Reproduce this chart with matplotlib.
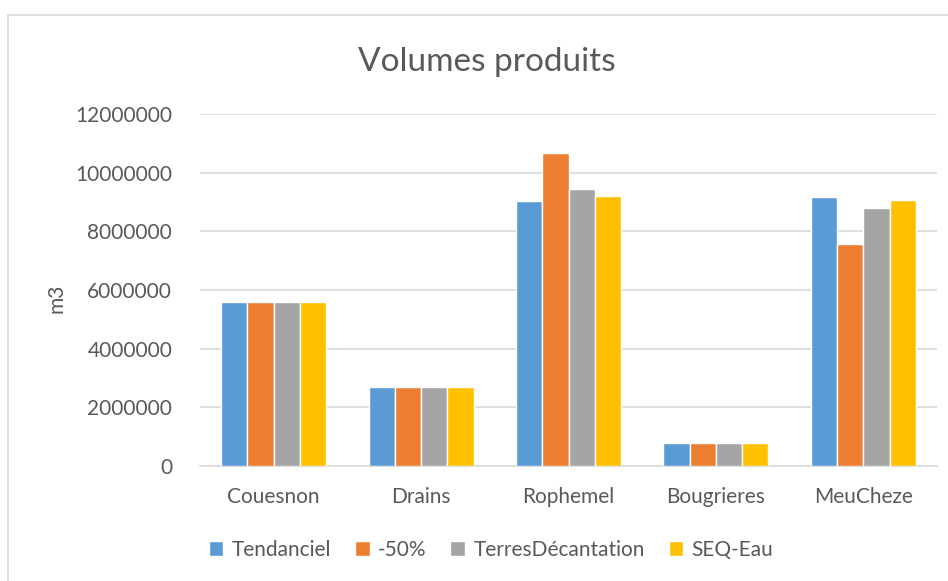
import numpy as np
import matplotlib
matplotlib.use("Agg")
import matplotlib.pyplot as plt
from matplotlib.patches import Rectangle

# Data
sites = ["Couesnon", "Drains", "Rophemel", "Bougrieres", "MeuCheze"]
tendanciel = [5600000, 2680000, 9050000, 780000, 9180000]
moins50 = [5600000, 2680000, 10680000, 780000, 7560000]
terresDecantation = [5600000, 2680000, 9460000, 780000, 8790000]
seqEau = [5600000, 2680000, 9190000, 780000, 9060000]
seriesNames = ["Tendanciel", "-50%", "TerresDécantation", "SEQ-Eau"]
yTicks = [0, 2000000, 4000000, 6000000, 8000000, 10000000, 12000000]

colors = ["#5B9BD5", "#ED7D31", "#A5A5A5", "#FFC000"]
textColor = "#595959"
gridColor = "#D9D9D9"

plt.rcParams['font.family'] = ['Lato', 'DejaVu Sans']

W, H = 948, 581
fig = plt.figure(figsize=(W/100, H/100), dpi=100)

# outer chart frame (cut by the picture on the right and bottom)
fig.patches.append(Rectangle((8/W, -0.1), 1.2, (H-15)/H + 0.1, transform=fig.transFigure,
                             fill=False, edgecolor=gridColor, linewidth=1.2))

left, right, top, bottom = 200, 937, 114, 466
ax = fig.add_axes([left/W, (H-bottom)/H, (right-left)/W, (bottom-top)/H])

series = [tendanciel, moins50, terresDecantation, seqEau]
x = np.arange(len(sites))
pitch = 0.178
for i, values in enumerate(series):
    offset = (i - 1.5) * pitch
    ax.bar(x + offset, values, width=pitch, color=colors[i], edgecolor="white",
           linewidth=1.0, label=seriesNames[i], zorder=3)

ax.set_xlim(-0.5, len(sites) - 0.5)
ax.set_ylim(0, 12000000)
ax.set_yticks(yTicks)
ax.set_yticklabels([str(v) for v in yTicks])
ax.set_xticks(x)
ax.set_xticklabels(sites)
ax.tick_params(axis='both', length=0, labelsize=15, colors=textColor)
ax.tick_params(axis='y', pad=20)
ax.tick_params(axis='x', pad=15)

ax.grid(axis='y', color=gridColor, linewidth=1.2, zorder=0)
for s in ["top", "right", "left"]:
    ax.spines[s].set_visible(False)
ax.spines["bottom"].set_color(gridColor)
ax.spines["bottom"].set_linewidth(1.2)

fig.text(57/W, 1 - 298/H, "m3", rotation=90, ha="center", va="center",
         fontsize=15, color=textColor)
fig.text(487/W, 1 - 62/H, "Volumes produits", ha="center", va="center",
         fontsize=24, color=textColor)

handles, labels = ax.get_legend_handles_labels()
leg = fig.legend(handles, labels, loc="center", bbox_to_anchor=(491/W, 1 - 550/H), ncol=4,
                 frameon=False, fontsize=15, handlelength=0.7, handleheight=0.7,
                 handletextpad=0.4, columnspacing=1.15, labelcolor=textColor)

fig.savefig("out.png", dpi=100)
